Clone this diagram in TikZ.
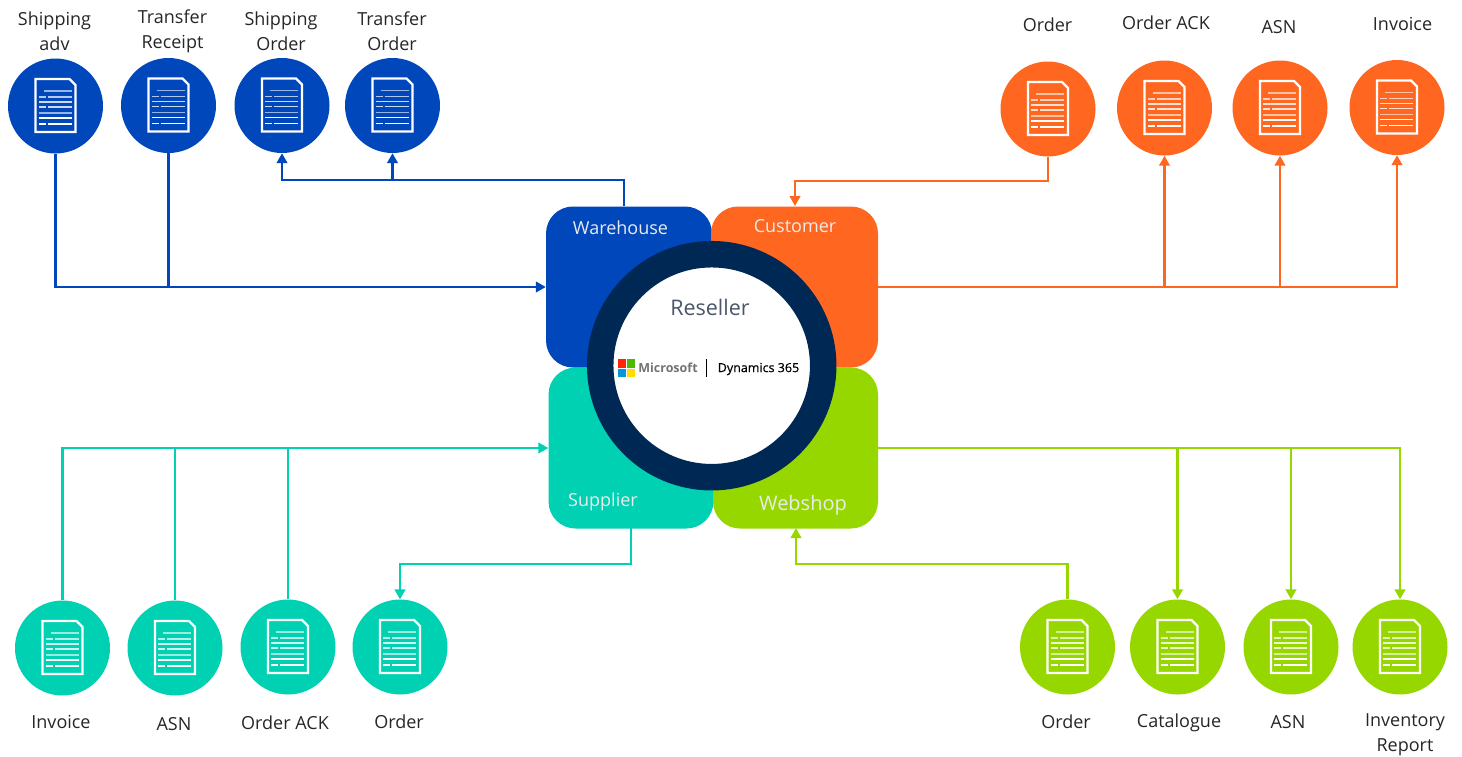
\documentclass[tikz,border=0pt]{standalone}
\usepackage{fontspec}
\setmainfont{Open Sans}
\newfontfamily\dynfont[FakeBold=0.5]{Open Sans}
\usetikzlibrary{arrows.meta}
\definecolor{wareblue}{HTML}{0047BB}
\definecolor{custorange}{HTML}{FF6720}
\definecolor{supteal}{HTML}{00D1B3}
\definecolor{shopgreen}{HTML}{97D700}
\definecolor{ringnavy}{HTML}{002855}
\definecolor{resgray}{HTML}{4B5668}
\tikzset{
	docnode/.style={circle,fill=#1,minimum size=95pt,inner sep=0pt},
	lbl/.style={align=center,text=black!85,font=\fontsize{18}{25}\selectfont,inner sep=0pt},
	partbox/.style={rectangle,rounded corners=27pt,fill=#1,inner sep=0pt},
	partlbl/.style={text=white!92!black,font=\fontsize{#1}{#1}\selectfont,inner sep=0pt},
	conn/.style={line width=2.7pt,draw=#1,-{Triangle[length=10pt,width=10.5pt]}},
	line/.style={line width=2.7pt,draw=#1},
	docicon/.pic={
		\draw[white,line width=2.2pt,line join=miter](-20,-27)--(14,-27)--(20,-21)--(20,26)--(-20,26)--cycle;
		\draw[white,line width=1.2pt,opacity=.6](-12,-15)--(16,-15);
		\draw[white,line width=1.2pt,opacity=.7](-17,-9)--(-10,-9)(-8,-9)--(16,-9);
		\draw[white,line width=1.2pt,opacity=.8](-17,-4)--(16,-4);
		\draw[white,line width=1.2pt,opacity=.8](-17,1)--(-10,1)(-8,1)--(16,1);
		\draw[white,line width=1.2pt,opacity=.6](-17,7)--(16,7);
		\draw[white,line width=1.2pt](-17,12)--(16,12);
		\draw[white,line width=1.2pt](-17,18)--(-10,18)(-8,18)--(16,18);
	}
}
\begin{document}
\begin{tikzpicture}[x=1pt,y=-1pt]
	% the four parties round the ring
	\node[partbox=wareblue,minimum width=166pt,minimum height=161pt] (warehouse) at (629,287) {};
	\node[partbox=custorange,minimum width=167pt,minimum height=161pt] (customer) at (794.5,287) {};
	\node[partbox=supteal,minimum width=165pt,minimum height=161pt] (supplier) at (631,448) {};
	\node[partbox=shopgreen,minimum width=165pt,minimum height=161pt] (webshop) at (795.5,448) {};
	\node[partlbl=18] (warelbl) at (620.5,228) {Warehouse};
	\node[partlbl=18] (custlbl) at (795,226) {Customer};
	\node[partlbl=18] (suplbl) at (603,502) {Supplier};
	\node[partlbl=20] (shoplbl) at (803,505) {Webshop};
	% document circles
	\foreach \nm/\x/\y/\col in {shipadv/55.5/106/wareblue,transrec/168.5/105.5/wareblue,shiporder/282/105.5/wareblue,transorder/392.5/105.5/wareblue,
		custorder/1048/109/custorange,custack/1164.5/108/custorange,custasn/1280/108/custorange,custinv/1397/107.5/custorange,
		supinv/62.5/648/supteal,supasn/175/648/supteal,supack/288/647/supteal,suporder/400/647/supteal,
		shoporder/1067.5/647/shopgreen,shopcat/1177.5/647/shopgreen,shopasn/1291/647/shopgreen,shoprep/1400/647/shopgreen}{
		\node[docnode=\col] (\nm) at (\x,\y) {};
		\pic at (\nm) {docicon};
	}
	% labels
	\foreach \nm/\x/\y/\txt in {shipadv/54.5/31/{Shipping\\adv},transrec/172.5/31.5/{Transfer\\Receipt},shiporder/281/31/{Shipping\\Order},transorder/392/31/{Transfer\\Order},
		custorder/1047.5/25/Order,custack/1166/23/Order ACK,custasn/1279/27/ASN,custinv/1402.5/24/Invoice,
		supinv/61/722/Invoice,supasn/174/724/ASN,supack/285/723/Order ACK,suporder/399/722/Order,
		shoporder/1066/722/Order,shopcat/1179/723/Catalogue,shopasn/1288/722/ASN,shoprep/1405/735/{Inventory\\Report}}{
		\node[lbl] (\nm lbl) at (\x,\y) {\txt};
	}
	% warehouse connectors
	\coordinate (wareout) at (624,206);
	\coordinate (shipbend) at (392.5,180);
	\draw[conn=wareblue] (shipadv.south) |- (warehouse.west);
	\draw[line=wareblue] (transrec.south) -- (transrec.south |- warehouse.west);
	\draw[conn=wareblue] (wareout) |- (shipbend) -| (shiporder.south);
	\draw[conn=wareblue] (shipbend) -- (transorder.south);
	% customer connectors
	\coordinate (custin) at (795,206);
	\draw[conn=custorange] (custorder.south) |- (795,181) -- (custin);
	\draw[conn=custorange] (customer.east) -| (custinv.south);
	\draw[conn=custorange] (custack.south |- customer.east) -- (custack.south);
	\draw[conn=custorange] (custasn.south |- customer.east) -- (custasn.south);
	% supplier connectors
	\coordinate (supout) at (631,528);
	\draw[conn=supteal] (supinv.north) |- (supplier.west);
	\draw[line=supteal] (supasn.north) -- (supasn.north |- supplier.west);
	\draw[line=supteal] (supack.north) -- (supack.north |- supplier.west);
	\draw[conn=supteal] (supout) |- (400,564) -- (suporder.north);
	% webshop connectors
	\coordinate (shopin) at (796,528);
	\draw[conn=shopgreen] (shoporder.north) |- (796,564) -- (shopin);
	\draw[conn=shopgreen] (webshop.east) -| (shoprep.north);
	\draw[conn=shopgreen] (shopcat.north |- webshop.east) -- (shopcat.north);
	\draw[conn=shopgreen] (shopasn.north |- webshop.east) -- (shopasn.north);
	% centre ring
	\node[circle,fill=white,draw=ringnavy,line width=26.5pt,minimum size=223pt,inner sep=0pt] (ring) at (711.7,365.7) {};
	\node[text=resgray,font=\fontsize{21.5}{22}\selectfont,inner sep=0pt] (reseller) at (710,307) {Reseller};
	% logo
	\fill[red!70!orange] (618,359) rectangle (626,367.5);
	\fill[green!60!black!70!yellow] (627,359) rectangle (635,367.5);
	\fill[cyan!80!blue] (618,368.5) rectangle (626,377);
	\fill[yellow!80!orange] (627,368.5) rectangle (635,377);
	\node[text=black!55,font=\bfseries\fontsize{12.5}{14}\selectfont,inner sep=0pt] (mslbl) at (668,368) {Microsoft};
	\draw[black,line width=1.2pt] (706.7,359) -- (706.7,377);
	\node[text=black,font=\dynfont\fontsize{12.5}{12.5}\selectfont,inner sep=0pt] (dynlbl) at (758.5,369) {Dynamics 365};
	\pgfresetboundingbox
	\path[use as bounding box] (0,0) rectangle (1462,756);
\end{tikzpicture}
\end{document}
